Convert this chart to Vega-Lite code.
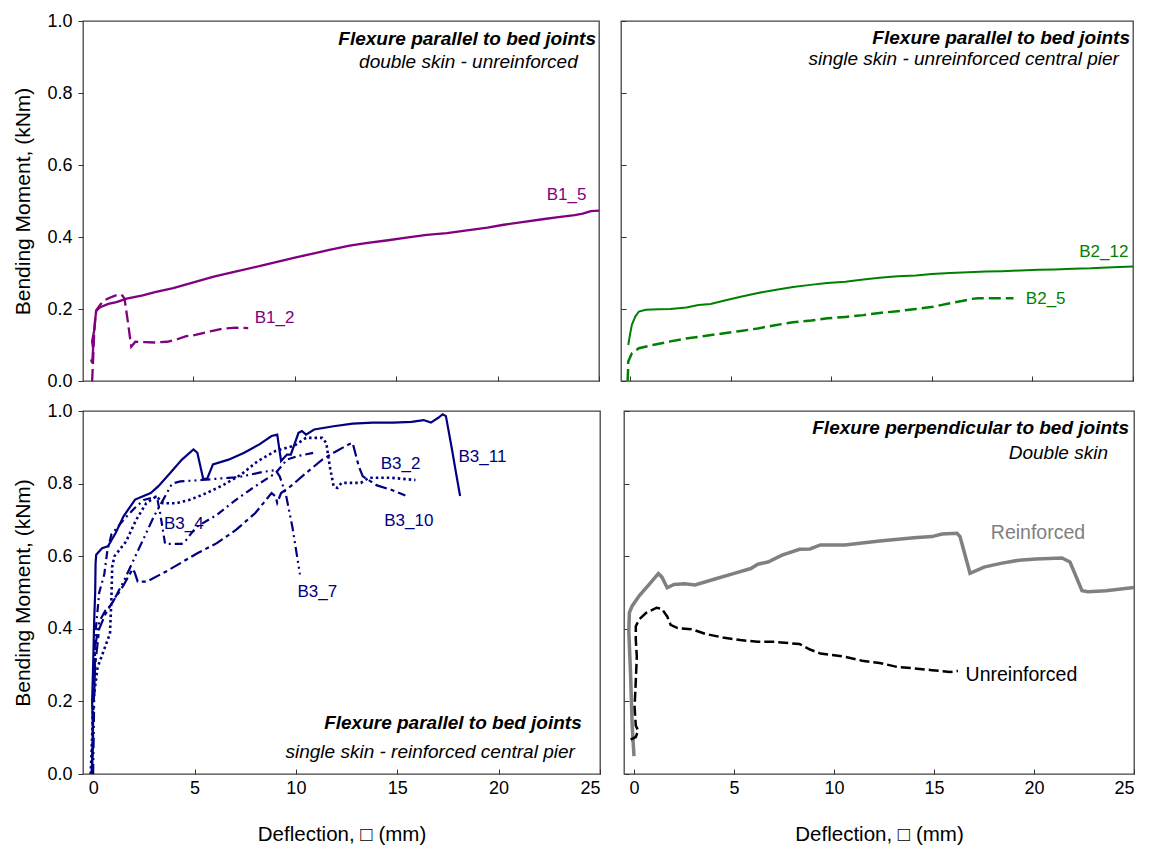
{
"$schema":"https://vega.github.io/schema/vega-lite/v6.json",
"padding":{"left":12,"top":11,"right":5,"bottom":5},
"background":"white",
"config":{
 "view":{"stroke":"#444","strokeWidth":1.3},
 "axis":{"labelFont":"Liberation Sans","titleFont":"Liberation Sans","labelFontSize":18,"titleFontSize":20,"titleFontWeight":"normal","labelColor":"#000","titleColor":"#000","tickColor":"#333","domain":false,"grid":false},
 "text":{"font":"Liberation Sans"}
},
"vconcat":[
 {"hconcat":[
  {"width":516,"height":360,
   "encoding":{
    "x":{"field":"x","type":"quantitative","scale":{"domain":[-0.45,25],"nice":false,"zero":false},"axis":{"values":[0,5,10,15,20,25],"labels":false,"title":null,"tickSize":-5}},
    "y":{"field":"y","type":"quantitative","scale":{"domain":[0,1],"nice":false},"axis":{"values":[0,0.2,0.4,0.6,0.8,1.0],"format":".1f","title":"Bending Moment, (kNm)","titleFontSize":21,"tickSize":5,"labelPadding":6,"titlePadding":13}}
   },
   "layer":[
    {"data":{"values":[{"x":-0.05,"y":0.06},{"x":0.0,"y":0.05},{"x":0.05,"y":0.09},{"x":0.0,"y":0.11},{"x":0.1,"y":0.14},{"x":0.15,"y":0.17},{"x":0.2,"y":0.195},{"x":0.4,"y":0.205},{"x":0.8,"y":0.214},{"x":1.2,"y":0.219},{"x":1.7,"y":0.229},{"x":2.5,"y":0.238},{"x":3.1,"y":0.247},{"x":4.0,"y":0.258},{"x":5.0,"y":0.274},{"x":6.0,"y":0.29},{"x":6.9,"y":0.302},{"x":8.4,"y":0.321},{"x":10.0,"y":0.343},{"x":11.0,"y":0.355},{"x":11.7,"y":0.364},{"x":12.7,"y":0.376},{"x":13.5,"y":0.383},{"x":14.6,"y":0.391},{"x":15.5,"y":0.398},{"x":16.5,"y":0.406},{"x":17.5,"y":0.411},{"x":18.4,"y":0.418},{"x":19.5,"y":0.426},{"x":20.3,"y":0.434},{"x":21.3,"y":0.442},{"x":22.3,"y":0.45},{"x":23.0,"y":0.455},{"x":23.8,"y":0.461},{"x":24.2,"y":0.465},{"x":24.6,"y":0.472},{"x":25,"y":0.473}]},
     "transform":[{"window":[{"op":"row_number","as":"i"}]}],
     "mark":{"type":"line","color":"#800080","strokeWidth":2.3,"clip":true},
     "encoding":{"order":{"field":"i","type":"quantitative"}}},
    {"data":{"values":[{"x":0.0,"y":0.0},{"x":0.05,"y":0.06},{"x":0.1,"y":0.13},{"x":0.15,"y":0.17},{"x":0.2,"y":0.196},{"x":0.4,"y":0.212},{"x":0.6,"y":0.224},{"x":0.9,"y":0.232},{"x":1.17,"y":0.238},{"x":1.36,"y":0.241},{"x":1.5,"y":0.237},{"x":1.6,"y":0.228},{"x":1.75,"y":0.17},{"x":1.93,"y":0.095},{"x":2.13,"y":0.109},{"x":2.6,"y":0.108},{"x":3.1,"y":0.107},{"x":3.7,"y":0.109},{"x":4.2,"y":0.116},{"x":4.6,"y":0.124},{"x":5.1,"y":0.128},{"x":5.6,"y":0.135},{"x":6.0,"y":0.14},{"x":6.5,"y":0.146},{"x":7.1,"y":0.148},{"x":7.7,"y":0.147}]},
     "transform":[{"window":[{"op":"row_number","as":"i"}]}],
     "mark":{"type":"line","color":"#800080","strokeWidth":2.3,"strokeDash":[12,5],"clip":true},
     "encoding":{"order":{"field":"i","type":"quantitative"}}},
    {"data":{"values":[{"x":23.4,"y":0.518,"t":"B1_5"},{"x":9.0,"y":0.175,"t":"B1_2"}]},
     "mark":{"type":"text","color":"#800080","fontSize":17},
     "encoding":{"text":{"field":"t"}}},
    {"data":{"values":[{"x":24.85,"y":0.95,"t":"Flexure parallel to bed joints"}]},
     "mark":{"type":"text","align":"right","fontSize":19,"fontStyle":"italic","fontWeight":"bold","color":"#000"},
     "encoding":{"text":{"field":"t"}}},
    {"data":{"values":[{"x":23.95,"y":0.886,"t":"double skin - unreinforced"}]},
     "mark":{"type":"text","align":"right","fontSize":19,"fontStyle":"italic","color":"#000"},
     "encoding":{"text":{"field":"t"}}}
   ]},
  {"width":512,"height":360,
   "encoding":{
    "x":{"field":"x","type":"quantitative","scale":{"domain":[-0.45,25],"nice":false,"zero":false},"axis":{"values":[0,5,10,15,20,25],"labels":false,"title":null,"tickSize":-5}},
    "y":{"field":"y","type":"quantitative","scale":{"domain":[0,1],"nice":false},"axis":{"values":[0,0.2,0.4,0.6,0.8,1.0],"labels":false,"title":null,"tickSize":-5}}
   },
   "layer":[
    {"data":{"values":[{"x":-0.09,"y":0.10},{"x":0.0,"y":0.13},{"x":0.09,"y":0.156},{"x":0.26,"y":0.179},{"x":0.44,"y":0.193},{"x":0.78,"y":0.198},{"x":1.4,"y":0.199},{"x":2.0,"y":0.2},{"x":2.8,"y":0.204},{"x":3.4,"y":0.211},{"x":4.0,"y":0.214},{"x":4.6,"y":0.222},{"x":5.5,"y":0.234},{"x":6.3,"y":0.244},{"x":7.2,"y":0.253},{"x":8.1,"y":0.261},{"x":8.96,"y":0.267},{"x":9.8,"y":0.272},{"x":10.7,"y":0.276},{"x":11.6,"y":0.282},{"x":12.4,"y":0.287},{"x":13.3,"y":0.291},{"x":14.2,"y":0.293},{"x":15.0,"y":0.297},{"x":15.9,"y":0.3},{"x":16.8,"y":0.302},{"x":17.7,"y":0.304},{"x":18.5,"y":0.305},{"x":19.4,"y":0.307},{"x":20.3,"y":0.309},{"x":21.1,"y":0.31},{"x":22.0,"y":0.312},{"x":22.9,"y":0.313},{"x":24.0,"y":0.316},{"x":25,"y":0.318}]},
     "transform":[{"window":[{"op":"row_number","as":"i"}]}],
     "mark":{"type":"line","color":"#008000","strokeWidth":2,"clip":true},
     "encoding":{"order":{"field":"i","type":"quantitative"}}},
    {"data":{"values":[{"x":-0.12,"y":0.0},{"x":-0.1,"y":0.03},{"x":-0.09,"y":0.054},{"x":0.09,"y":0.077},{"x":0.44,"y":0.091},{"x":1.13,"y":0.1},{"x":2.0,"y":0.11},{"x":2.87,"y":0.119},{"x":3.7,"y":0.125},{"x":4.6,"y":0.132},{"x":5.5,"y":0.139},{"x":6.35,"y":0.146},{"x":7.2,"y":0.155},{"x":8.1,"y":0.163},{"x":9.0,"y":0.168},{"x":9.83,"y":0.174},{"x":10.7,"y":0.178},{"x":11.6,"y":0.183},{"x":12.4,"y":0.189},{"x":13.3,"y":0.194},{"x":14.2,"y":0.2},{"x":15.05,"y":0.206},{"x":15.9,"y":0.216},{"x":16.5,"y":0.222},{"x":16.97,"y":0.228},{"x":17.3,"y":0.23},{"x":18.2,"y":0.23},{"x":19.06,"y":0.23}]},
     "transform":[{"window":[{"op":"row_number","as":"i"}]}],
     "mark":{"type":"line","color":"#008000","strokeWidth":2.5,"strokeDash":[12,5],"clip":true},
     "encoding":{"order":{"field":"i","type":"quantitative"}}},
    {"data":{"values":[{"x":23.55,"y":0.359,"t":"B2_12"},{"x":20.66,"y":0.227,"t":"B2_5"}]},
     "mark":{"type":"text","color":"#008000","fontSize":17},
     "encoding":{"text":{"field":"t"}}},
    {"data":{"values":[{"x":24.85,"y":0.953,"t":"Flexure parallel to bed joints"}]},
     "mark":{"type":"text","align":"right","fontSize":19,"fontStyle":"italic","fontWeight":"bold","color":"#000"},
     "encoding":{"text":{"field":"t"}}},
    {"data":{"values":[{"x":24.3,"y":0.894,"t":"single skin  - unreinforced central pier"}]},
     "mark":{"type":"text","align":"right","fontSize":19,"fontStyle":"italic","color":"#000"},
     "encoding":{"text":{"field":"t"}}}
   ]}
 ],"spacing":18},
 {"hconcat":[
  {"width":517,"height":363,
   "encoding":{
    "x":{"field":"x","type":"quantitative","scale":{"domain":[-0.5,25],"nice":false,"zero":false},"axis":{"values":[0,5,10,15,20,25],"format":"d","title":"Deflection, □ (mm)","titleFontSize":20.5,"tickSize":-5,"labelPadding":10,"titlePadding":27}},
    "y":{"field":"y","type":"quantitative","scale":{"domain":[0,1],"nice":false},"axis":{"values":[0,0.2,0.4,0.6,0.8,1.0],"format":".1f","title":"Bending Moment, (kNm)","titleFontSize":21,"tickSize":5,"labelPadding":6,"titlePadding":13}}
   },
   "layer":[
    {"data":{"values":[{"x":-0.08,"y":0.0},{"x":0.0,"y":0.1},{"x":-0.05,"y":0.2},{"x":0.0,"y":0.3},{"x":0.05,"y":0.42},{"x":0.1,"y":0.5},{"x":0.12,"y":0.58},{"x":0.15,"y":0.604},{"x":0.44,"y":0.622},{"x":0.73,"y":0.627},{"x":1.11,"y":0.664},{"x":1.5,"y":0.71},{"x":2.07,"y":0.756},{"x":2.46,"y":0.765},{"x":2.84,"y":0.774},{"x":3.22,"y":0.793},{"x":3.8,"y":0.829},{"x":4.38,"y":0.866},{"x":4.95,"y":0.894},{"x":5.14,"y":0.885},{"x":5.43,"y":0.813},{"x":5.62,"y":0.813},{"x":5.91,"y":0.853},{"x":6.68,"y":0.866},{"x":7.45,"y":0.885},{"x":8.2,"y":0.908},{"x":8.8,"y":0.931},{"x":9.08,"y":0.935},{"x":9.27,"y":0.862},{"x":9.56,"y":0.88},{"x":9.75,"y":0.88},{"x":10.13,"y":0.94},{"x":10.3,"y":0.945},{"x":10.5,"y":0.935},{"x":10.9,"y":0.949},{"x":11.86,"y":0.958},{"x":12.8,"y":0.965},{"x":13.8,"y":0.968},{"x":14.8,"y":0.968},{"x":15.7,"y":0.97},{"x":16.3,"y":0.975},{"x":16.66,"y":0.968},{"x":17.04,"y":0.982},{"x":17.24,"y":0.991},{"x":17.4,"y":0.986},{"x":17.7,"y":0.894},{"x":17.9,"y":0.829},{"x":18.1,"y":0.766}]},
     "transform":[{"window":[{"op":"row_number","as":"i"}]}],
     "mark":{"type":"line","color":"#000080","strokeWidth":2.2,"clip":true},
     "encoding":{"order":{"field":"i","type":"quantitative"}}},
    {"data":{"values":[{"x":-0.12,"y":0.0},{"x":-0.05,"y":0.1},{"x":0.0,"y":0.2},{"x":0.22,"y":0.294},{"x":0.83,"y":0.387},{"x":0.9,"y":0.479},{"x":0.94,"y":0.571},{"x":1.05,"y":0.6},{"x":1.62,"y":0.64},{"x":2.12,"y":0.7},{"x":2.62,"y":0.746},{"x":3.12,"y":0.765},{"x":3.45,"y":0.746},{"x":4.1,"y":0.746},{"x":4.8,"y":0.756},{"x":5.6,"y":0.774},{"x":6.45,"y":0.797},{"x":7.3,"y":0.825},{"x":8.12,"y":0.862},{"x":9.0,"y":0.89},{"x":9.94,"y":0.905},{"x":10.5,"y":0.926},{"x":11.3,"y":0.926},{"x":11.5,"y":0.912},{"x":11.67,"y":0.848},{"x":11.86,"y":0.793},{"x":12.05,"y":0.788},{"x":12.25,"y":0.802},{"x":13.2,"y":0.802},{"x":13.6,"y":0.816},{"x":14.7,"y":0.816},{"x":15.9,"y":0.81}]},
     "transform":[{"window":[{"op":"row_number","as":"i"}]}],
     "mark":{"type":"line","color":"#000080","strokeWidth":2.6,"strokeDash":[2.5,3],"clip":true},
     "encoding":{"order":{"field":"i","type":"quantitative"}}},
    {"data":{"values":[{"x":-0.05,"y":0.0},{"x":0.0,"y":0.15},{"x":0.1,"y":0.3},{"x":0.3,"y":0.4},{"x":0.6,"y":0.44},{"x":0.92,"y":0.47},{"x":1.5,"y":0.52},{"x":1.95,"y":0.565},{"x":2.05,"y":0.555},{"x":2.2,"y":0.53},{"x":2.65,"y":0.53},{"x":3.6,"y":0.558},{"x":5.14,"y":0.608},{"x":6.1,"y":0.636},{"x":7.06,"y":0.673},{"x":8.0,"y":0.719},{"x":8.8,"y":0.774},{"x":9.0,"y":0.765},{"x":9.08,"y":0.747},{"x":9.27,"y":0.774},{"x":9.75,"y":0.793},{"x":10.5,"y":0.829},{"x":11.3,"y":0.866},{"x":11.86,"y":0.885},{"x":12.6,"y":0.908},{"x":12.8,"y":0.912},{"x":13.1,"y":0.848},{"x":13.3,"y":0.82},{"x":14.0,"y":0.795},{"x":14.7,"y":0.783},{"x":15.4,"y":0.767}]},
     "transform":[{"window":[{"op":"row_number","as":"i"}]}],
     "mark":{"type":"line","color":"#000080","strokeWidth":2.2,"strokeDash":[12,4,4,4],"clip":true},
     "encoding":{"order":{"field":"i","type":"quantitative"}}},
    {"data":{"values":[{"x":0.0,"y":0.0},{"x":0.05,"y":0.2},{"x":0.1,"y":0.35},{"x":0.3,"y":0.42},{"x":0.6,"y":0.45},{"x":0.92,"y":0.468},{"x":1.5,"y":0.53},{"x":2.0,"y":0.59},{"x":2.5,"y":0.65},{"x":3.0,"y":0.71},{"x":3.5,"y":0.76},{"x":3.89,"y":0.8},{"x":4.3,"y":0.806},{"x":5.37,"y":0.81},{"x":6.68,"y":0.816},{"x":7.19,"y":0.818},{"x":8.35,"y":0.832},{"x":9.0,"y":0.837},{"x":9.2,"y":0.82},{"x":9.5,"y":0.772},{"x":9.83,"y":0.68},{"x":10.0,"y":0.62},{"x":10.2,"y":0.55}]},
     "transform":[{"window":[{"op":"row_number","as":"i"}]}],
     "mark":{"type":"line","color":"#000080","strokeWidth":2.2,"strokeDash":[10,4,2,4,2,4],"clip":true},
     "encoding":{"order":{"field":"i","type":"quantitative"}}},
    {"data":{"values":[{"x":-0.05,"y":0.0},{"x":0.0,"y":0.2},{"x":0.1,"y":0.38},{"x":0.3,"y":0.5},{"x":0.55,"y":0.55},{"x":0.7,"y":0.615},{"x":0.9,"y":0.66},{"x":1.5,"y":0.7},{"x":2.0,"y":0.73},{"x":2.5,"y":0.755},{"x":3.14,"y":0.765},{"x":3.3,"y":0.72},{"x":3.55,"y":0.634},{"x":4.37,"y":0.634},{"x":4.6,"y":0.645},{"x":4.88,"y":0.666},{"x":5.14,"y":0.682},{"x":6.1,"y":0.714},{"x":7.06,"y":0.756},{"x":8.0,"y":0.793},{"x":9.0,"y":0.829},{"x":9.56,"y":0.866},{"x":10.1,"y":0.876},{"x":10.9,"y":0.885}]},
     "transform":[{"window":[{"op":"row_number","as":"i"}]}],
     "mark":{"type":"line","color":"#000080","strokeWidth":2.2,"strokeDash":[8,4,2,4],"clip":true},
     "encoding":{"order":{"field":"i","type":"quantitative"}}},
    {"data":{"values":[{"x":19.2,"y":0.874,"t":"B3_11"},{"x":15.16,"y":0.855,"t":"B3_2"},{"x":15.57,"y":0.698,"t":"B3_10"},{"x":4.47,"y":0.689,"t":"B3_4"},{"x":11.06,"y":0.502,"t":"B3_7"}]},
     "mark":{"type":"text","color":"#000080","fontSize":17},
     "encoding":{"text":{"field":"t"}}},
    {"data":{"values":[{"x":24.1,"y":0.14,"t":"Flexure parallel to bed joints"}]},
     "mark":{"type":"text","align":"right","fontSize":19,"fontStyle":"italic","fontWeight":"bold","color":"#000"},
     "encoding":{"text":{"field":"t"}}},
    {"data":{"values":[{"x":23.76,"y":0.06,"t":"single skin  - reinforced central pier"}]},
     "mark":{"type":"text","align":"right","fontSize":19,"fontStyle":"italic","color":"#000"},
     "encoding":{"text":{"field":"t"}}}
   ]},
  {"width":510,"height":363,
   "encoding":{
    "x":{"field":"x","type":"quantitative","scale":{"domain":[-0.5,25],"nice":false,"zero":false},"axis":{"values":[0,5,10,15,20,25],"format":"d","title":"Deflection, □ (mm)","titleFontSize":20.5,"tickSize":-5,"labelPadding":10,"titlePadding":27}},
    "y":{"field":"y","type":"quantitative","scale":{"domain":[0,1],"nice":false},"axis":{"values":[0,0.2,0.4,0.6,0.8,1.0],"labels":false,"title":null,"tickSize":-5}}
   },
   "layer":[
    {"data":{"values":[{"x":0.0,"y":0.049},{"x":-0.09,"y":0.133},{"x":-0.17,"y":0.273},{"x":-0.26,"y":0.393},{"x":-0.23,"y":0.445},{"x":-0.09,"y":0.463},{"x":0.26,"y":0.491},{"x":0.78,"y":0.524},{"x":1.22,"y":0.552},{"x":1.39,"y":0.543},{"x":1.66,"y":0.513},{"x":2.0,"y":0.522},{"x":2.53,"y":0.524},{"x":3.05,"y":0.521},{"x":4.09,"y":0.538},{"x":4.97,"y":0.552},{"x":5.84,"y":0.566},{"x":6.19,"y":0.578},{"x":6.7,"y":0.584},{"x":7.4,"y":0.603},{"x":8.28,"y":0.619},{"x":8.8,"y":0.62},{"x":9.32,"y":0.631},{"x":10.54,"y":0.631},{"x":12.28,"y":0.642},{"x":14.0,"y":0.651},{"x":14.9,"y":0.654},{"x":15.4,"y":0.661},{"x":16.15,"y":0.663},{"x":16.3,"y":0.654},{"x":16.8,"y":0.553},{"x":17.5,"y":0.57},{"x":18.4,"y":0.581},{"x":19.25,"y":0.589},{"x":20.1,"y":0.592},{"x":21.4,"y":0.595},{"x":21.8,"y":0.584},{"x":22.4,"y":0.505},{"x":22.7,"y":0.502},{"x":23.6,"y":0.505},{"x":25,"y":0.514}]},
     "transform":[{"window":[{"op":"row_number","as":"i"}]}],
     "mark":{"type":"line","color":"#808080","strokeWidth":3.5,"clip":true},
     "encoding":{"order":{"field":"i","type":"quantitative"}}},
    {"data":{"values":[{"x":-0.17,"y":0.095},{"x":0.09,"y":0.102},{"x":0.21,"y":0.12},{"x":0.09,"y":0.133},{"x":0.03,"y":0.184},{"x":0.09,"y":0.258},{"x":0.14,"y":0.323},{"x":0.09,"y":0.37},{"x":0.09,"y":0.407},{"x":0.26,"y":0.426},{"x":0.61,"y":0.444},{"x":1.13,"y":0.458},{"x":1.39,"y":0.455},{"x":1.66,"y":0.434},{"x":1.83,"y":0.411},{"x":2.18,"y":0.402},{"x":2.87,"y":0.399},{"x":3.57,"y":0.386},{"x":4.44,"y":0.376},{"x":5.31,"y":0.369},{"x":6.18,"y":0.364},{"x":7.05,"y":0.364},{"x":8.28,"y":0.358},{"x":8.8,"y":0.343},{"x":9.32,"y":0.332},{"x":10.54,"y":0.323},{"x":11.41,"y":0.312},{"x":12.28,"y":0.306},{"x":13.15,"y":0.295},{"x":14.0,"y":0.291},{"x":14.9,"y":0.286},{"x":15.8,"y":0.281},{"x":16.2,"y":0.284}]},
     "transform":[{"window":[{"op":"row_number","as":"i"}]}],
     "mark":{"type":"line","color":"#000000","strokeWidth":2.5,"strokeDash":[10,4],"clip":true},
     "encoding":{"order":{"field":"i","type":"quantitative"}}},
    {"data":{"values":[{"x":20.2,"y":0.665,"t":"Reinforced"}]},
     "mark":{"type":"text","color":"#808080","fontSize":19.5},
     "encoding":{"text":{"field":"t"}}},
    {"data":{"values":[{"x":19.37,"y":0.274,"t":"Unreinforced"}]},
     "mark":{"type":"text","color":"#000000","fontSize":19.5},
     "encoding":{"text":{"field":"t"}}},
    {"data":{"values":[{"x":24.75,"y":0.952,"t":"Flexure perpendicular to bed joints"}]},
     "mark":{"type":"text","align":"right","fontSize":19,"fontStyle":"italic","fontWeight":"bold","color":"#000"},
     "encoding":{"text":{"field":"t"}}},
    {"data":{"values":[{"x":23.7,"y":0.885,"t":"Double skin"}]},
     "mark":{"type":"text","align":"right","fontSize":19,"fontStyle":"italic","color":"#000"},
     "encoding":{"text":{"field":"t"}}}
   ]}
 ],"spacing":20}
],"spacing":10
}
